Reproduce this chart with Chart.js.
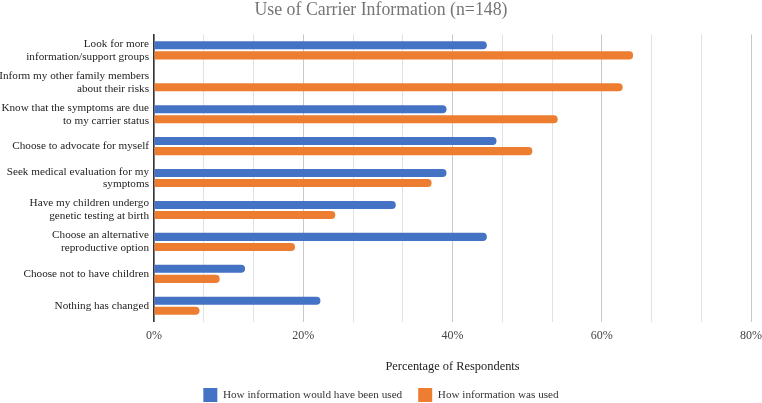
<!DOCTYPE html>
<html>
<head>
<meta charset="utf-8">
<script src="https://cdn.jsdelivr.net/npm/chart.js@4"></script>
<style>
    html, body { margin: 0; padding: 0; background: #fff; }
    #wrap { width: 762px; height: 403px; }
</style>
</head>
<body>
<div id="wrap"><canvas id="carrierChart"></canvas></div>
<script>
// ─────────────────────────────────────────────
// DATA (percent of n=148)
// ─────────────────────────────────────────────
const categories = [
    ['Look for more', 'information/support groups'],
    ['Inform my other family members', 'about their risks'],
    ['Know that the symptoms are due', 'to my carrier status'],
    'Choose to advocate for myself',
    ['Seek medical evaluation for my', 'symptoms'],
    ['Have my children undergo', 'genetic testing at birth'],
    ['Choose an alternative', 'reproductive option'],
    'Choose not to have children',
    'Nothing has changed'
];
const wouldHaveUsed = [44.6, null, 39.2, 45.9, 39.2, 32.4, 44.6, 12.2, 22.3];
const wasUsed = [64.2, 62.8, 54.1, 50.7, 37.2, 24.3, 18.9, 8.8, 6.1];
const seriesNames = ['How information would have been used', 'How information was used'];
const tickLabels = ['0%', '20%', '40%', '60%', '80%'];

const FONT = '"Liberation Serif", "Times New Roman", serif';

function isMajor(v) {
    const r = v / 20;
    return Math.abs(r - Math.round(r)) < 1e-6;
}

new Chart(document.getElementById('carrierChart').getContext('2d'), {
    type: 'bar',
    data: {
        labels: categories,
        datasets: [
            {
                label: seriesNames[0],
                data: wouldHaveUsed,
                backgroundColor: '#4472c4',
                borderRadius: 4
            },
            {
                label: seriesNames[1],
                data: wasUsed,
                backgroundColor: '#ed7d31',
                borderRadius: 4
            }
        ]
    },
    options: {
        indexAxis: 'y',
        responsive: true,
        maintainAspectRatio: false,
        animation: false,
        categoryPercentage: 0.63,
        barPercentage: 0.8,
        layout: { padding: { top: 0, bottom: -9, left: 0, right: 0 } },
        plugins: {
            title: {
                display: true,
                text: 'Use of Carrier Information (n=148)',
                color: '#757575',
                font: { family: FONT, size: 17.8, weight: 'normal' },
                padding: { top: 0, bottom: 13 }
            },
            legend: {
                position: 'bottom',
                labels: {
                    color: '#333',
                    boxWidth: 14,
                    boxHeight: 14,
                    padding: 16,
                    font: { family: FONT, size: 11.2 }
                }
            },
            tooltip: { enabled: false }
        },
        scales: {
            x: {
                min: 0,
                max: 80,
                ticks: {
                    stepSize: 20 / 3,
                    autoSkip: false,
                    maxRotation: 0,
                    padding: 0,
                    color: '#444',
                    font: { family: FONT, size: 12 },
                    callback: function (v) {
                        return isMajor(v) ? tickLabels[Math.round(v / 20)] : '';
                    }
                },
                grid: {
                    drawTicks: true,
                    tickLength: 7,
                    tickColor: 'rgba(0,0,0,0)',
                    color: function (c) {
                        return isMajor(c.tick.value) ? '#c9c9c9' : '#e2e2e2';
                    }
                },
                border: { display: false },
                title: {
                    display: true,
                    text: 'Percentage of Respondents',
                    color: '#222',
                    font: { family: FONT, size: 12.4 },
                    padding: { top: 16, bottom: -2 }
                }
            },
            y: {
                afterFit: function (scale) { scale.width = 154; },
                ticks: {
                    color: '#222',
                    padding: 5,
                    font: { family: FONT, size: 11.2, lineHeight: 1.15 }
                },
                grid: { display: false, drawTicks: false },
                border: { display: true, color: '#333', width: 1.5 }
            }
        }
    }
});
</script>
</body>
</html>
